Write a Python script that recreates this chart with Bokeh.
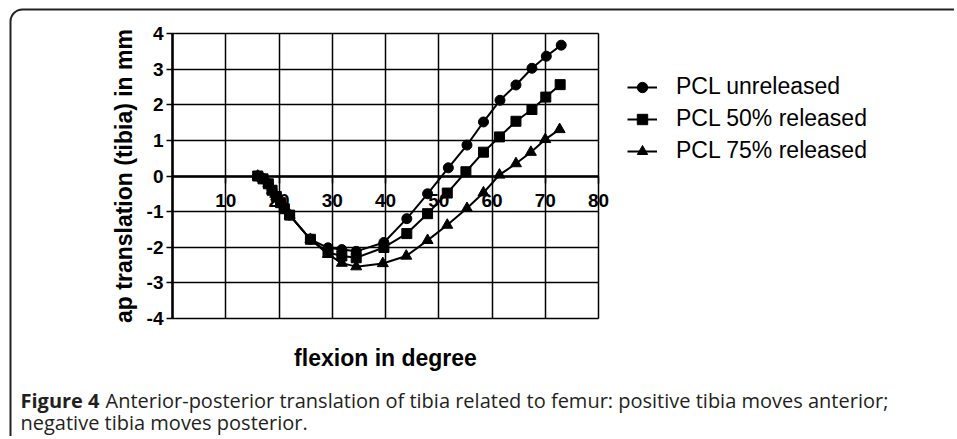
from bokeh.plotting import figure
from bokeh.models import Range1d, FixedTicker, Legend, LegendItem, Label, BoxAnnotation
from bokeh.embed import file_html
from bokeh.resources import INLINE

# ---- data ----
flexion_unrel = [16, 17, 18, 18.7, 19.5, 20.3, 21, 22, 25.9, 29.2, 31.8, 34.5, 39.7, 44.0, 47.9, 51.8, 55.3, 58.4, 61.5, 64.5, 67.5, 70.2, 73.0]
ap_unrel = [0, -0.08, -0.22, -0.4, -0.58, -0.75, -0.92, -1.1, -1.78, -2.02, -2.07, -2.12, -1.87, -1.2, -0.5, 0.23, 0.87, 1.52, 2.13, 2.56, 3.03, 3.37, 3.68]

flexion_50 = [16, 17, 18, 18.7, 19.5, 20.3, 21, 22, 25.9, 29.2, 31.8, 34.5, 39.7, 44.0, 47.9, 51.6, 55.1, 58.4, 61.4, 64.5, 67.5, 70.1, 72.8]
ap_50 = [0, -0.08, -0.22, -0.4, -0.58, -0.75, -0.92, -1.1, -1.78, -2.15, -2.25, -2.3, -2.01, -1.62, -1.06, -0.48, 0.12, 0.67, 1.1, 1.54, 1.87, 2.22, 2.57]

flexion_75 = [16, 17, 18, 18.7, 19.5, 20.3, 21, 22, 25.9, 29.2, 31.8, 34.5, 39.5, 43.9, 47.9, 51.6, 55.3, 58.4, 61.4, 64.5, 67.3, 70.0, 72.7]
ap_75 = [0, -0.08, -0.22, -0.4, -0.58, -0.75, -0.92, -1.1, -1.78, -2.2, -2.45, -2.55, -2.46, -2.25, -1.81, -1.38, -0.91, -0.47, 0.03, 0.35, 0.67, 1.03, 1.31]

series_labels = ["PCL unreleased", "PCL 50% released", "PCL 75% released"]
series_markers = ["circle", "square", "triangle"]

x_ticks = [10, 20, 30, 40, 50, 60, 70, 80]
x_grid = [0, 10, 20, 30, 40, 50, 60, 70, 80]
y_ticks = [-4, -3, -2, -1, 0, 1, 2, 3, 4]

x_title = "flexion in degree"
y_title = "ap translation (tibia) in mm"
caption_bold = "Figure 4"
caption_line1 = "Anterior-posterior translation of tibia related to femur: positive tibia moves anterior;"
caption_line2 = "negative tibia moves posterior."

# ---- layout constants (pixels) ----
W, H = 954, 436
PX0, PXU = 172.0, 5.325     # pixel of x=0, pixels per x unit
PY0, PYU = 175.5, 35.55     # pixel of y=0, pixels per y unit

def dx(px):
    return (px - PX0) / PXU

def dy(py):
    return (PY0 - py) / PYU

p = figure(width=W, height=H, output_backend="svg", toolbar_location=None,
           x_range=Range1d(dx(0), dx(W)), y_range=Range1d(dy(H), dy(0)),
           min_border=0, background_fill_color="white", border_fill_color="white")
p.outline_line_color = None

# grids limited to the plotting rectangle
p.xgrid.ticker = FixedTicker(ticks=x_grid)
p.ygrid.ticker = FixedTicker(ticks=y_ticks)
p.xgrid.bounds = (0, 80)
p.ygrid.bounds = (-4, 4)
p.xgrid.cross_bounds = (-4, 4)
p.ygrid.cross_bounds = (0, 80)
for g in (p.xgrid, p.ygrid):
    g.grid_line_color = "black"
    g.grid_line_width = 1.5
    g.grid_line_alpha = 1.0

# x axis crossing at y = 0
xa = p.xaxis[0]
xa.fixed_location = 0
xa.bounds = (0, 80)
xa.ticker = FixedTicker(ticks=x_ticks)
xa.major_label_overrides = {t: str(t) for t in x_ticks}
xa.axis_line_width = 2.5
xa.axis_line_color = "black"
xa.major_tick_in = 0
xa.major_tick_out = 7
xa.major_tick_line_width = 1.5
xa.minor_tick_line_color = None
xa.major_label_standoff = 11
xa.major_label_text_font = "Liberation Sans"
xa.major_label_text_font_style = "bold"
xa.major_label_text_font_size = "19px"
xa.major_label_text_color = "black"

# y axis at x = 0
ya = p.yaxis[0]
ya.fixed_location = 0
ya.bounds = (-4, 4)
ya.ticker = FixedTicker(ticks=y_ticks)
ya.major_label_overrides = {t: str(t) for t in y_ticks}
ya.axis_line_width = 2.5
ya.axis_line_color = "black"
ya.major_tick_in = 0
ya.major_tick_out = 6
ya.major_tick_line_width = 1.5
ya.minor_tick_line_color = None
ya.major_label_standoff = 3
ya.major_label_text_font = "Liberation Sans"
ya.major_label_text_font_style = "bold"
ya.major_label_text_font_size = "19px"
ya.major_label_text_color = "black"
ya.axis_label = y_title
ya.axis_label_text_font = "Liberation Sans"
ya.axis_label_text_font_style = "bold"
ya.axis_label_text_font_size = "23px"
ya.axis_label_text_color = "black"
ya.axis_label_standoff = 7

# series
items = []
for xs, ys, lab, mk in [(flexion_unrel, ap_unrel, series_labels[0], series_markers[0]),
                        (flexion_50, ap_50, series_labels[1], series_markers[1]),
                        (flexion_75, ap_75, series_labels[2], series_markers[2])]:
    lr = p.line(xs, ys, line_color="black", line_width=2)
    sr = p.scatter(xs, ys, marker=mk, size=10 if mk != "triangle" else 11,
                   fill_color="black", line_color="black")
    items.append(LegendItem(label=lab, renderers=[lr, sr]))

legend = Legend(items=items, location=(627, H - 164), orientation="vertical",
                glyph_width=30, glyph_height=26, label_height=25, spacing=5,
                label_standoff=19, padding=0, margin=0,
                border_line_color=None, background_fill_alpha=0,
                label_text_font="Liberation Sans", label_text_font_size="23px",
                label_text_color="black", label_text_baseline="middle")
p.add_layout(legend)

# x-axis title
p.add_layout(Label(x=40, y=dy(357), text=x_title, text_align="center", text_baseline="middle",
                   text_font="Liberation Sans", text_font_style="bold", text_font_size="23px",
                   text_color="black"))

# frame box (rounded top-left corner, continues off page)
p.add_layout(BoxAnnotation(left=dx(10), right=dx(W + 60), top=dy(9), bottom=dy(H + 60),
                           fill_alpha=0, line_color="#222222", line_alpha=1.0, line_width=2,
                           border_radius=12))

# caption
cx = dx(20)
p.add_layout(Label(x=cx, y=dy(400), text=caption_bold, text_baseline="middle",
                   text_font="Open Sans", text_font_style="bold", text_font_size="20px",
                   text_color="#231f20"))
p.add_layout(Label(x=cx, y=dy(400), x_offset=85, text=caption_line1, text_baseline="middle",
                   text_font="Open Sans", text_font_size="20px", text_color="#231f20"))
p.add_layout(Label(x=cx, y=dy(422), text=caption_line2, text_baseline="middle",
                   text_font="Open Sans", text_font_size="20px", text_color="#231f20"))

open("out.html", "w").write(file_html(p, INLINE))
